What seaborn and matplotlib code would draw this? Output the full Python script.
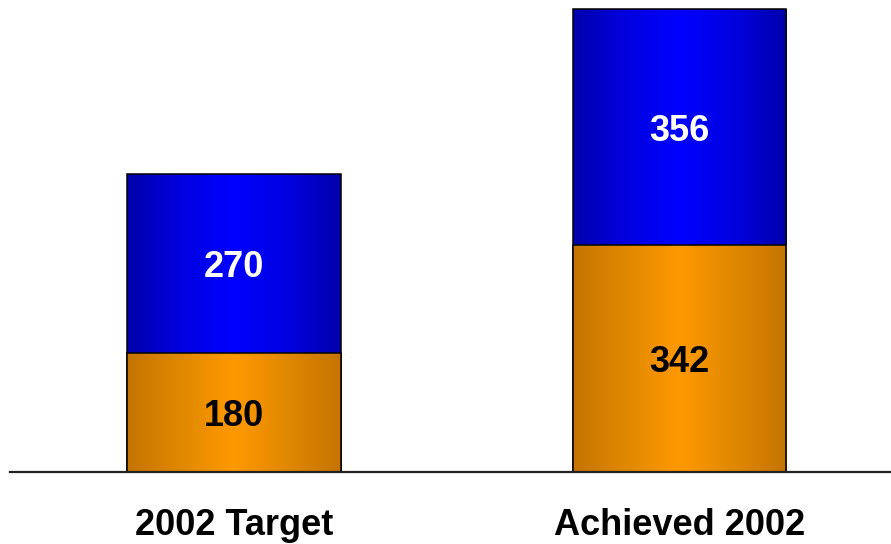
import numpy as np
import pandas as pd
import matplotlib
matplotlib.use("Agg")
import matplotlib.pyplot as plt
from matplotlib.colors import LinearSegmentedColormap
import seaborn as sns

categories = ["2002 Target", "Achieved 2002"]
bottom_values = [180, 342]
top_values = [270, 356]

sns.set_theme(style="white")
plt.rcParams["font.family"] = ["Liberation Sans", "DejaVu Sans"]

fig = plt.figure(figsize=(8.91, 5.44), dpi=100)
ax = fig.add_axes([10 / 891, 72 / 544, 881 / 891, 472 / 544])

totals = [b + t for b, t in zip(bottom_values, top_values)]
df_tot = pd.DataFrame({"cat": categories, "val": totals})
df_bot = pd.DataFrame({"cat": categories, "val": bottom_values})

sns.barplot(data=df_tot, x="cat", y="val", color="#0000FF", width=0.48,
            edgecolor="black", linewidth=1.1, ax=ax, zorder=2)
n_top = len(ax.patches)
sns.barplot(data=df_bot, x="cat", y="val", color="#FF9900", width=0.48,
            edgecolor="black", linewidth=1.1, ax=ax, zorder=2)

blue_cmap = LinearSegmentedColormap.from_list(
    "bl", ["#0000AC", "#0000E0", "#0000FF", "#0000E0", "#0000AC"])
orange_cmap = LinearSegmentedColormap.from_list(
    "or", ["#C47400", "#E08800", "#FF9900", "#E08800", "#C47400"])

grad = np.linspace(0, 1, 256).reshape(1, -1)
for i, p in enumerate(ax.patches):
    cmap = blue_cmap if i < n_top else orange_cmap
    x0, y0 = p.get_x(), p.get_y()
    w, h = p.get_width(), p.get_height()
    z = 3 if i >= n_top else 1.5
    im = ax.imshow(grad, cmap=cmap, extent=[x0, x0 + w, y0, y0 + h],
                   aspect="auto", zorder=z, interpolation="bilinear")
    im.set_clip_path(p)
    p.set_facecolor("none")
    p.set_zorder(z + 0.1)

ax.set_xlim(-0.503, 1.475)
ax.set_ylim(0, 712)

for i, (b, t) in enumerate(zip(bottom_values, top_values)):
    ax.text(i, b / 2, str(b), ha="center", va="center_baseline", fontsize=26,
            fontweight="bold", color="black", zorder=5)
    ax.text(i, b + t / 2, str(t), ha="center", va="center_baseline", fontsize=26,
            fontweight="bold", color="white", zorder=5)

for s in ["top", "right", "left"]:
    ax.spines[s].set_visible(False)
ax.spines["bottom"].set_color("#222222")
ax.spines["bottom"].set_linewidth(1.6)
ax.spines["bottom"].set_zorder(6)
ax.set_yticks([])
ax.set_xlabel("")
ax.set_ylabel("")
ax.tick_params(axis="x", length=0, pad=26, labelsize=26, labelcolor="black")
for lbl in ax.get_xticklabels():
    lbl.set_fontweight("bold")

fig.savefig("out.png", dpi=100)
